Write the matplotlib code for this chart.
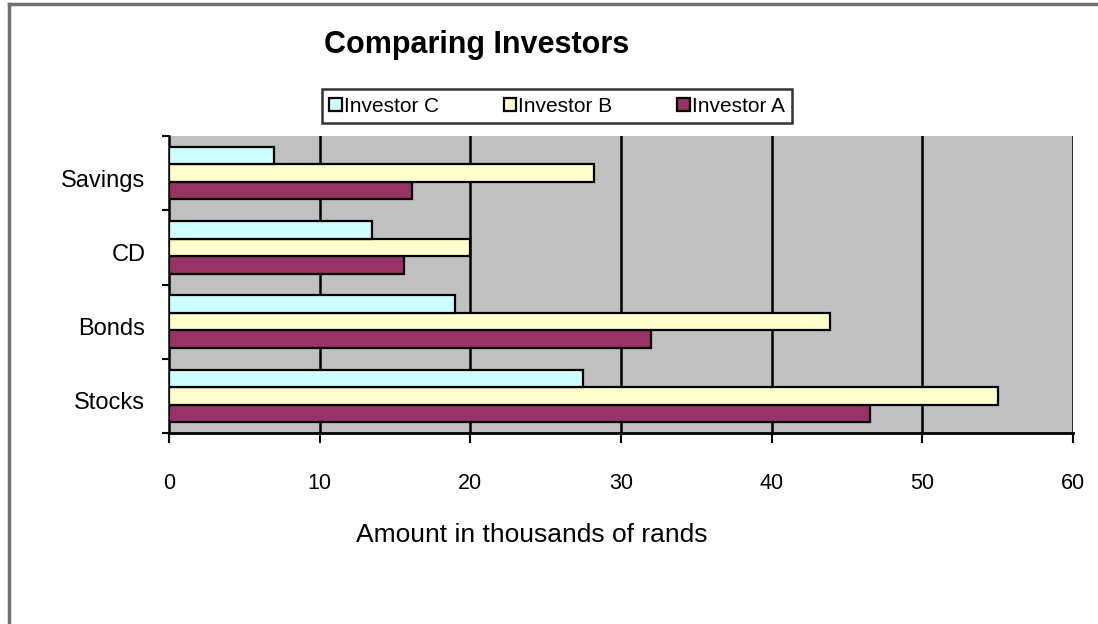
import matplotlib.pyplot as plt
import matplotlib.transforms as mtransforms
from matplotlib.lines import Line2D
import numpy as np

plt.rcParams['font.family'] = ['Liberation Sans', 'DejaVu Sans']

categories = ["Stocks", "Bonds", "CD", "Savings"]
investor_a = [46.5, 32, 15.6, 16.1]
investor_b = [55, 43.9, 20, 28.2]
investor_c = [27.5, 19, 13.5, 7.0]
x_ticks = [0, 10, 20, 30, 40, 50, 60]

fig = plt.figure(figsize=(10.98, 6.24), dpi=100)
ax = fig.add_axes([169 / 1098, 1 - 433 / 624, 904 / 1098, 297 / 624])

y = np.arange(len(categories))
h = 0.236
ax.barh(y - h, investor_a, height=h, color="#993366", edgecolor="black", lw=1.6, label="Investor A", zorder=3)
ax.barh(y, investor_b, height=h, color="#ffffcc", edgecolor="black", lw=1.6, label="Investor B", zorder=3)
ax.barh(y + h, investor_c, height=h, color="#ccffff", edgecolor="black", lw=1.6, label="Investor C", zorder=3)

ax.set_facecolor("#c0c0c0")
ax.set_xlim(0, 60)
ax.set_ylim(-0.5, len(categories) - 0.5)
ax.set_xticks(x_ticks)
ax.set_xticklabels([str(t) for t in x_ticks], fontsize=15.5)
ax.set_yticks(y)
ax.set_yticklabels(categories, fontsize=17)
ax.set_yticks(np.arange(-0.5, len(categories)), minor=True)
ax.tick_params(axis="y", which="major", length=0, pad=17)
ax.tick_params(axis="y", which="minor", length=5, width=1.5, direction="out")
ax.tick_params(axis="x", length=7, width=1.5, direction="out", pad=22)
# labels sit a little below the category centre in the original
shift = mtransforms.ScaledTranslation(0, -5 / 100, fig.dpi_scale_trans)
for lbl in ax.get_yticklabels():
    lbl.set_transform(lbl.get_transform() + shift)

for t in x_ticks[1:]:
    ax.axvline(t, color="black", lw=1.8, zorder=1)
for side in ["top", "right"]:
    ax.spines[side].set_visible(False)
ax.spines["left"].set_linewidth(1.8)
ax.spines["bottom"].set_linewidth(2)

fig.text(532 / 1098, 1 - 535 / 624, "Amount in thousands of rands", fontsize=19,
         ha="center", va="center")

fig.text(477 / 1098, 1 - 45 / 624, "Comparing Investors", fontsize=22, fontweight="bold",
         ha="center", va="center")

handles, labels = ax.get_legend_handles_labels()
leg = fig.legend(handles[::-1], labels[::-1], ncol=3, loc="center",
                 bbox_to_anchor=(557 / 1098, 1 - 106 / 624), fontsize=15,
                 frameon=True, fancybox=False, edgecolor="black",
                 handlelength=0.6, handleheight=0.6, handletextpad=0.1,
                 columnspacing=3.1, borderpad=0.35, borderaxespad=0)
leg.get_frame().set_linewidth(1.8)

# outer frame
fig.add_artist(Line2D([9 / 1098, 9 / 1098], [0, 1 - 4 / 624], color="#707070", lw=2.5))
fig.add_artist(Line2D([9 / 1098, 1], [1 - 4 / 624, 1 - 4 / 624], color="#707070", lw=2.5))

fig.savefig("out.png", dpi=100)
